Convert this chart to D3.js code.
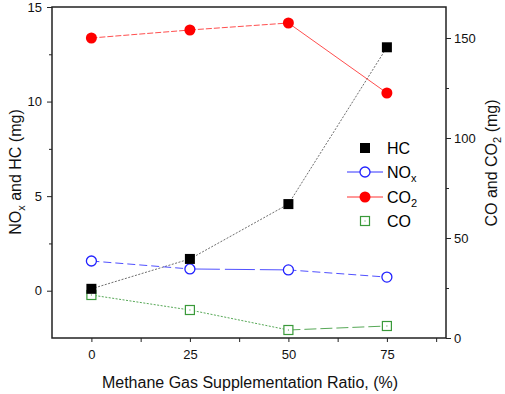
<!doctype html>
<html>
<head>
<style>
  body { margin: 0; background: #fff; }
  svg { display: block; font-family: 'Liberation Sans', Arial, sans-serif; }
  .tick text { font-size: 13px; fill: #111; }
  .axis path, .axis line { stroke: #222; }
  text.title { font-size: 16px; fill: #111; }
  text.leg { font-size: 16px; fill: #000; }
</style>
<script src="https://d3js.org/d3.v7.min.js"></script>
</head>
<body>
<svg width="505" height="394"></svg>
<script>
// methane supplementation ratio (%)
const ratios = [0, 25, 50, 75];
// left axis (mg)
const hc = [0.1, 1.68, 4.58, 12.87];
const nox = [1.57, 1.15, 1.1, 0.72];
// right axis (mg)
const co2 = [150, 154, 157.5, 122.5];
const co = [21.5, 14, 4, 6];

const xTicks = [0, 25, 50, 75];
const xMinor = [12.5, 37.5, 62.5, 87.5];
const leftTicks = [0, 5, 10, 15];
const leftMinor = [2.5, 7.5, 12.5];
const rightTicks = [0, 50, 100, 150];
const rightMinor = [25, 75, 125];

const svg = d3.select('svg');
const L = 52, R = 446, T = 7, B = 338;

const x = d3.scaleLinear().domain([-10, 90]).range([L, R]);
const yL = d3.scaleLinear().domain([-2.5, 15]).range([B, T]);
const yR = d3.scaleLinear().domain([0, 165.5]).range([B, T]);

// frame
svg.append('rect')
  .attr('x', L).attr('y', T).attr('width', R - L).attr('height', B - T)
  .attr('fill', 'none').attr('stroke', '#222').attr('stroke-width', 1.5);

// axes
svg.append('g').attr('class', 'axis').attr('transform', `translate(0,${B})`)
  .call(d3.axisBottom(x).tickValues(xTicks).tickSize(4).tickPadding(8));
svg.append('g').attr('class', 'axis').attr('transform', `translate(0,${B})`)
  .call(d3.axisBottom(x).tickValues(xMinor).tickSize(4).tickFormat(''));

svg.append('g').attr('class', 'axis').attr('transform', `translate(${L},0)`)
  .call(d3.axisLeft(yL).tickValues(leftTicks).tickSize(5).tickPadding(5));
svg.append('g').attr('class', 'axis').attr('transform', `translate(${L},0)`)
  .call(d3.axisLeft(yL).tickValues(leftMinor).tickSize(3).tickFormat(''));

svg.append('g').attr('class', 'axis').attr('transform', `translate(${R},0)`)
  .call(d3.axisRight(yR).tickValues(rightTicks).tickSize(5).tickPadding(3));
svg.append('g').attr('class', 'axis').attr('transform', `translate(${R},0)`)
  .call(d3.axisRight(yR).tickValues(rightMinor).tickSize(3).tickFormat(''));

svg.selectAll('.axis .domain').remove();

// titles
svg.append('text').attr('class', 'title')
  .attr('x', (L + R) / 2 + 1).attr('y', 388).attr('text-anchor', 'middle')
  .text('Methane Gas Supplementation Ratio, (%)');

const lt = svg.append('text').attr('class', 'title')
  .attr('transform', 'translate(21,172) rotate(-90)').attr('text-anchor', 'middle');
lt.append('tspan').text('NO');
lt.append('tspan').attr('dy', 4).attr('font-size', 11).text('x');
lt.append('tspan').attr('dy', -4).text(' and HC (mg)');

const rt = svg.append('text').attr('class', 'title')
  .attr('transform', 'translate(497,163) rotate(-90)').attr('text-anchor', 'middle');
rt.append('tspan').text('CO and CO');
rt.append('tspan').attr('dy', 4).attr('font-size', 11).text('2');
rt.append('tspan').attr('dy', -4).text(' (mg)');

// series, with the dash style of each segment as in the original
const series = [
  { name: 'HC', vals: hc, y: yL, color: '#555', dash: ['2,1.5', '2,1.5', '2,1.5'] },
  { name: 'NOx', vals: nox, y: yL, color: '#3333ff', dash: ['8,4', '30,5', '8,4'] },
  { name: 'CO2', vals: co2, y: yR, color: '#ff3030', dash: ['6,2', '6,2', null] },
  { name: 'CO', vals: co, y: yR, color: '#3a9a3a', dash: ['2,1.5', '2,1.5', '12,4'] }
];

series.forEach(s => {
  const segs = d3.pairs(s.vals.map((v, i) => [x(ratios[i]), s.y(v)]));
  svg.append('g').selectAll('line').data(segs).join('line')
    .attr('x1', d => d[0][0]).attr('y1', d => d[0][1])
    .attr('x2', d => d[1][0]).attr('y2', d => d[1][1])
    .attr('stroke', s.color).attr('stroke-width', 1)
    .attr('stroke-dasharray', (d, i) => s.dash[i]).attr('opacity', 0.85);
});

function marker(g, name, cx, cy) {
  if (name === 'HC') {
    g.append('rect').attr('x', cx - 5).attr('y', cy - 5).attr('width', 10).attr('height', 10)
      .attr('fill', '#000');
  } else if (name === 'NOx') {
    g.append('circle').attr('cx', cx).attr('cy', cy).attr('r', 5)
      .attr('fill', '#fff').attr('stroke', '#2222ff').attr('stroke-width', 1.3);
  } else if (name === 'CO2') {
    g.append('circle').attr('cx', cx).attr('cy', cy).attr('r', 5.5)
      .attr('fill', '#ff0000');
  } else {
    g.append('rect').attr('x', cx - 4.5).attr('y', cy - 4.5).attr('width', 9).attr('height', 9)
      .attr('fill', '#fff').attr('stroke', '#3a9a3a').attr('stroke-width', 1.2);
    g.append('rect').attr('x', cx - 0.5).attr('y', cy - 0.5).attr('width', 1).attr('height', 1)
      .attr('fill', '#3a9a3a');
  }
}

const order = ['CO', 'NOx', 'CO2', 'HC'];
order.forEach(n => {
  const s = series.find(d => d.name === n);
  const g = svg.append('g');
  s.vals.forEach((v, i) => marker(g, n, x(ratios[i]), s.y(v)));
});

// legend
const legX = 365, legT = 387;
const legRows = [
  { name: 'HC', y: 148, line: false, main: 'HC', sub: '' },
  { name: 'NOx', y: 172, line: true, main: 'NO', sub: 'x' },
  { name: 'CO2', y: 197, line: true, main: 'CO', sub: '2' },
  { name: 'CO', y: 221, line: false, main: 'CO', sub: '' }
];
legRows.forEach(r => {
  const g = svg.append('g');
  const s = series.find(d => d.name === r.name);
  if (r.line) {
    g.append('line').attr('x1', legX - 18).attr('x2', legX + 18)
      .attr('y1', r.y).attr('y2', r.y).attr('stroke', s.color).attr('stroke-width', 1);
  }
  marker(g, r.name, legX, r.y);
  const t = g.append('text').attr('class', 'leg').attr('x', legT).attr('y', r.y + 6);
  t.append('tspan').text(r.main);
  if (r.sub) t.append('tspan').attr('dy', 4).attr('font-size', 11).text(r.sub);
});
</script>
</body>
</html>
